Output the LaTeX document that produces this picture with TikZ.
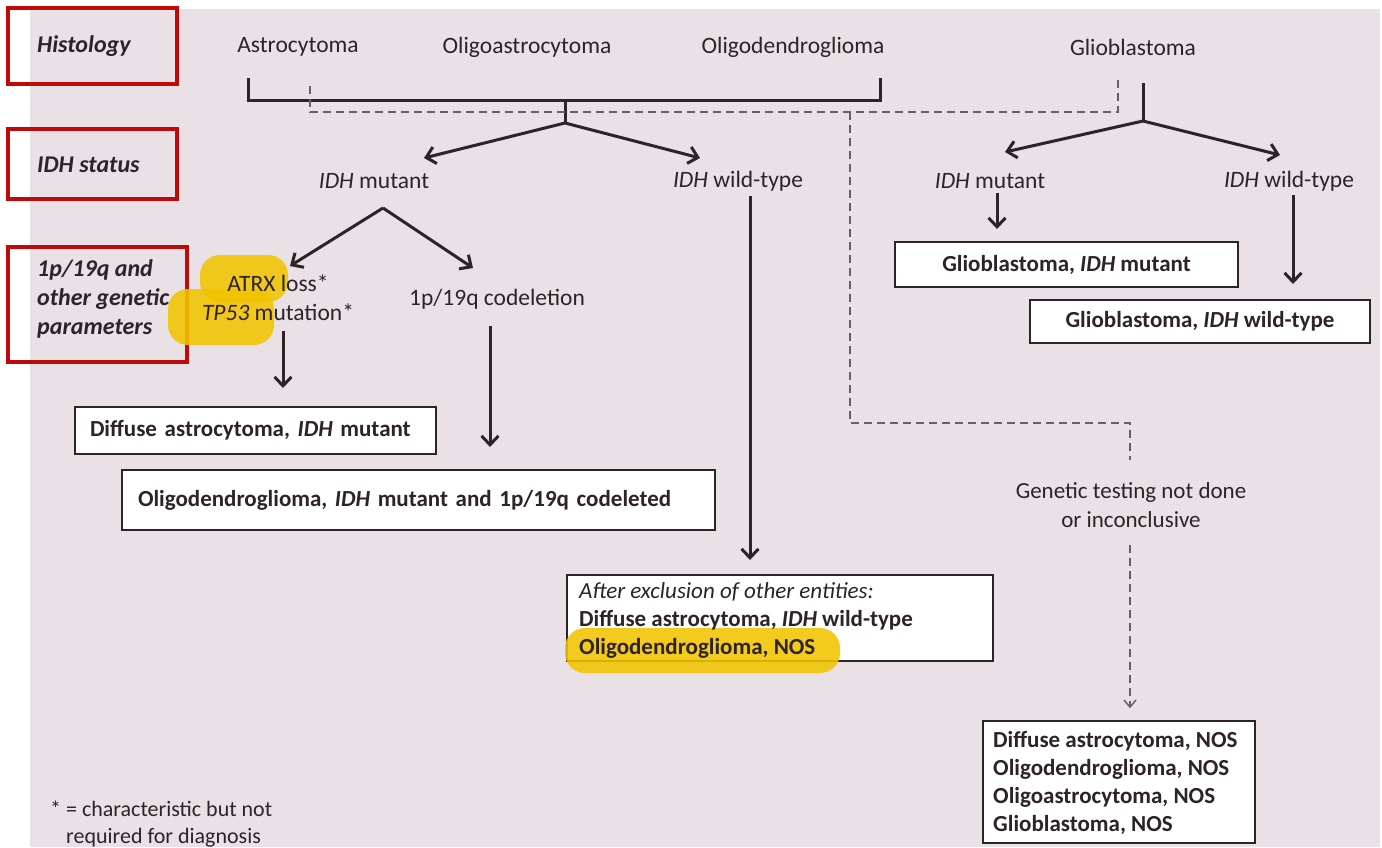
\documentclass[tikz,border=0pt]{standalone}
\usepackage{fontspec}
\setmainfont{Carlito}
\usetikzlibrary{arrows.meta}
\definecolor{bgc}{RGB}{233,225,229}
\definecolor{ink}{RGB}{45,35,40}
\definecolor{dash}{RGB}{105,95,100}
\definecolor{redb}{RGB}{192,10,10}
\definecolor{hl}{RGB}{242,196,0}
\tikzset{
  lbl/.style={inner sep=0pt, text=ink, font=\fontsize{23.5}{28}\selectfont},
  side/.style={inner sep=0pt, text=ink, font=\fontsize{24}{29}\selectfont\bfseries\itshape, align=left, anchor=west},
  redbox/.style={draw=redb, line width=3.5pt},
  boxt/.style={draw=ink, fill=white, line width=1.6pt, text=ink, font=\fontsize{23}{28.5}\selectfont\bfseries, align=left, inner sep=0pt},
  btxt/.style={inner sep=0pt, text=ink, font=\fontsize{23}{28.5}\selectfont\bfseries, anchor=west},
  conn/.style={draw=ink, line width=3pt},
  arr/.style={conn, -{Straight Barb[length=9pt,width=17pt,line width=3pt]}},
  dsh/.style={draw=dash, line width=2.4pt, dash pattern=on 8pt off 5pt},
  hlbox/.style={fill=hl, opacity=0.88, rounded corners=20pt},
}
\begin{document}
\begin{tikzpicture}[x=1pt,y=-1pt]
\useasboundingbox (0,0) rectangle (1382,847);
\fill[white] (0,0) rectangle (1382,847);
\fill[bgc] (30,9) rectangle (1380,847);

% side labels
\draw[redbox] (8,8) rectangle (177,84);
\draw[redbox] (8,129) rectangle (177,199);
\draw[redbox] (8,247) rectangle (187,362);
\node[side] (hist) at (37,46) {Histology};
\node[side] (idhs) at (37,165) {IDH status};
\node[side] (gen) at (37,299) {1p/19q and\\other genetic\\parameters};

% histology labels
\node[lbl] (astro) at (298,47) {Astrocytoma};
\node[lbl] (oligoa) at (527,47) {Oligoastrocytoma};
\node[lbl] (oligod) at (793,47) {Oligodendroglioma};
\node[lbl] (gbm) at (1133,47) {Glioblastoma};

% IDH status labels
\node[lbl] (idhm) at (374,181) {\textit{IDH} mutant};
\node[lbl] (idhw) at (738,181) {\textit{IDH} wild-type};
\node[lbl] (gidhm) at (990,181) {\textit{IDH} mutant};
\node[lbl] (gidhw) at (1289,181) {\textit{IDH} wild-type};

% highlights
\fill[hlbox] (200,255) rectangle (288,302);
\fill[hlbox] (168,289) rectangle (274,345);

% genetic params
\node[lbl] (atrx) at (278,283) {ATRX loss*};
\node[lbl] (tp53) at (278,312) {\textit{TP53} mutation*};
\node[lbl] (codel) at (497,299) {1p/19q codeletion};

% boxes
\node[boxt, minimum width=361pt, minimum height=47pt, text width=331pt] (dam) at (255.5,430.5) {Diffuse astrocytoma, \textit{IDH} mutant};
\node[boxt, minimum width=593pt, minimum height=60pt, text width=561pt] (odm) at (418.5,500) {Oligodendroglioma, \textit{IDH} mutant and 1p/19q codeleted};
\node[boxt, minimum width=426pt, minimum height=86pt] (excl) at (780,618) {};
\fill[hlbox] (565,628) rectangle (840,673);
\node[btxt, font=\fontsize{23}{28.5}\selectfont\itshape] (ex1) at (579,592) {After exclusion of other entities:};
\node[btxt] (ex2) at (579,620) {Diffuse astrocytoma, \textit{IDH} wild-type};
\node[btxt] (ex3) at (579,648) {Oligodendroglioma, NOS};
\node[boxt, minimum width=343pt, minimum height=45pt] (gbmm) at (1066.5,264.5) {Glioblastoma, \textit{IDH} mutant};
\node[boxt, minimum width=340pt, minimum height=43pt] (gbmw) at (1200,321.5) {Glioblastoma, \textit{IDH} wild-type};
\node[boxt, minimum width=272pt, minimum height=122pt] (nos) at (1119,782) {};
\node[btxt] (n1) at (993,741) {Diffuse astrocytoma, NOS};
\node[btxt] (n2) at (993,769) {Oligodendroglioma, NOS};
\node[btxt] (n3) at (993,797) {Oligoastrocytoma, NOS};
\node[btxt] (n4) at (993,825) {Glioblastoma, NOS};
\node[lbl, align=center, font=\fontsize{23}{29}\selectfont] (gt) at (1131,505) {Genetic testing not done\\or inconclusive};

% footnote
\node[lbl, anchor=west, align=left, font=\fontsize{22}{27}\selectfont] (fn) at (50,824) {* = characteristic but not\\\hspace*{16pt}required for diagnosis};

% solid bracket
\coordinate (bl) at (248,78);
\coordinate (br) at (880,78);
\coordinate (bm) at (565,100);
\coordinate (bj) at (565,123);
\draw[conn] (bl) -- (248,100) -- (880,100) -- (br);
\draw[conn] (bm) -- (bj);
\coordinate (t1) at (424,158);
\coordinate (t2) at (700,158);
\draw[arr] (bj) -- (t1);
\draw[arr] (bj) -- (t2);

% dashed bracket
\coordinate (d0) at (310,86);
\coordinate (d1) at (1118,80);
\coordinate (dv) at (850,112);
\coordinate (dc) at (1130,423);
\draw[dsh] (d0) -- (310,112) -- (1118,112) -- (d1);
\draw[dsh] (dv) -- (850,423) -- (dc) -- (1130,460);
\coordinate (gb) at (1130,545);
\path (gb |- nos.north) coordinate (nt);
\coordinate (ge) at ([yshift=12pt]nt);
\draw[dsh, -{Straight Barb[length=7pt,width=12pt,line width=1.5pt]}] (gb) -- (ge);

% glioblastoma stem
\coordinate (g0) at (1143,83);
\coordinate (gj) at (1143,121);
\draw[conn] (g0) -- (gj);
\coordinate (g1) at (1005,152);
\coordinate (g2) at (1280,155);
\draw[arr] (gj) -- (g1);
\draw[arr] (gj) -- (g2);

% IDH mutant branch
\coordinate (mj) at (383,208);
\coordinate (m1) at (290,266);
\coordinate (m2) at (473,268);
\draw[arr] (mj) -- (m1);
\draw[arr] (mj) -- (m2);

% downward arrows
\draw[arr] (283,331) -- (283,388);
\draw[arr] (490,326) -- (490,447);
\draw[arr] (750,196) -- (750,560);
\draw[arr] (997,193) -- (997,229);
\draw[arr] (1293,195) -- (1293,284);
\end{tikzpicture}
\end{document}
